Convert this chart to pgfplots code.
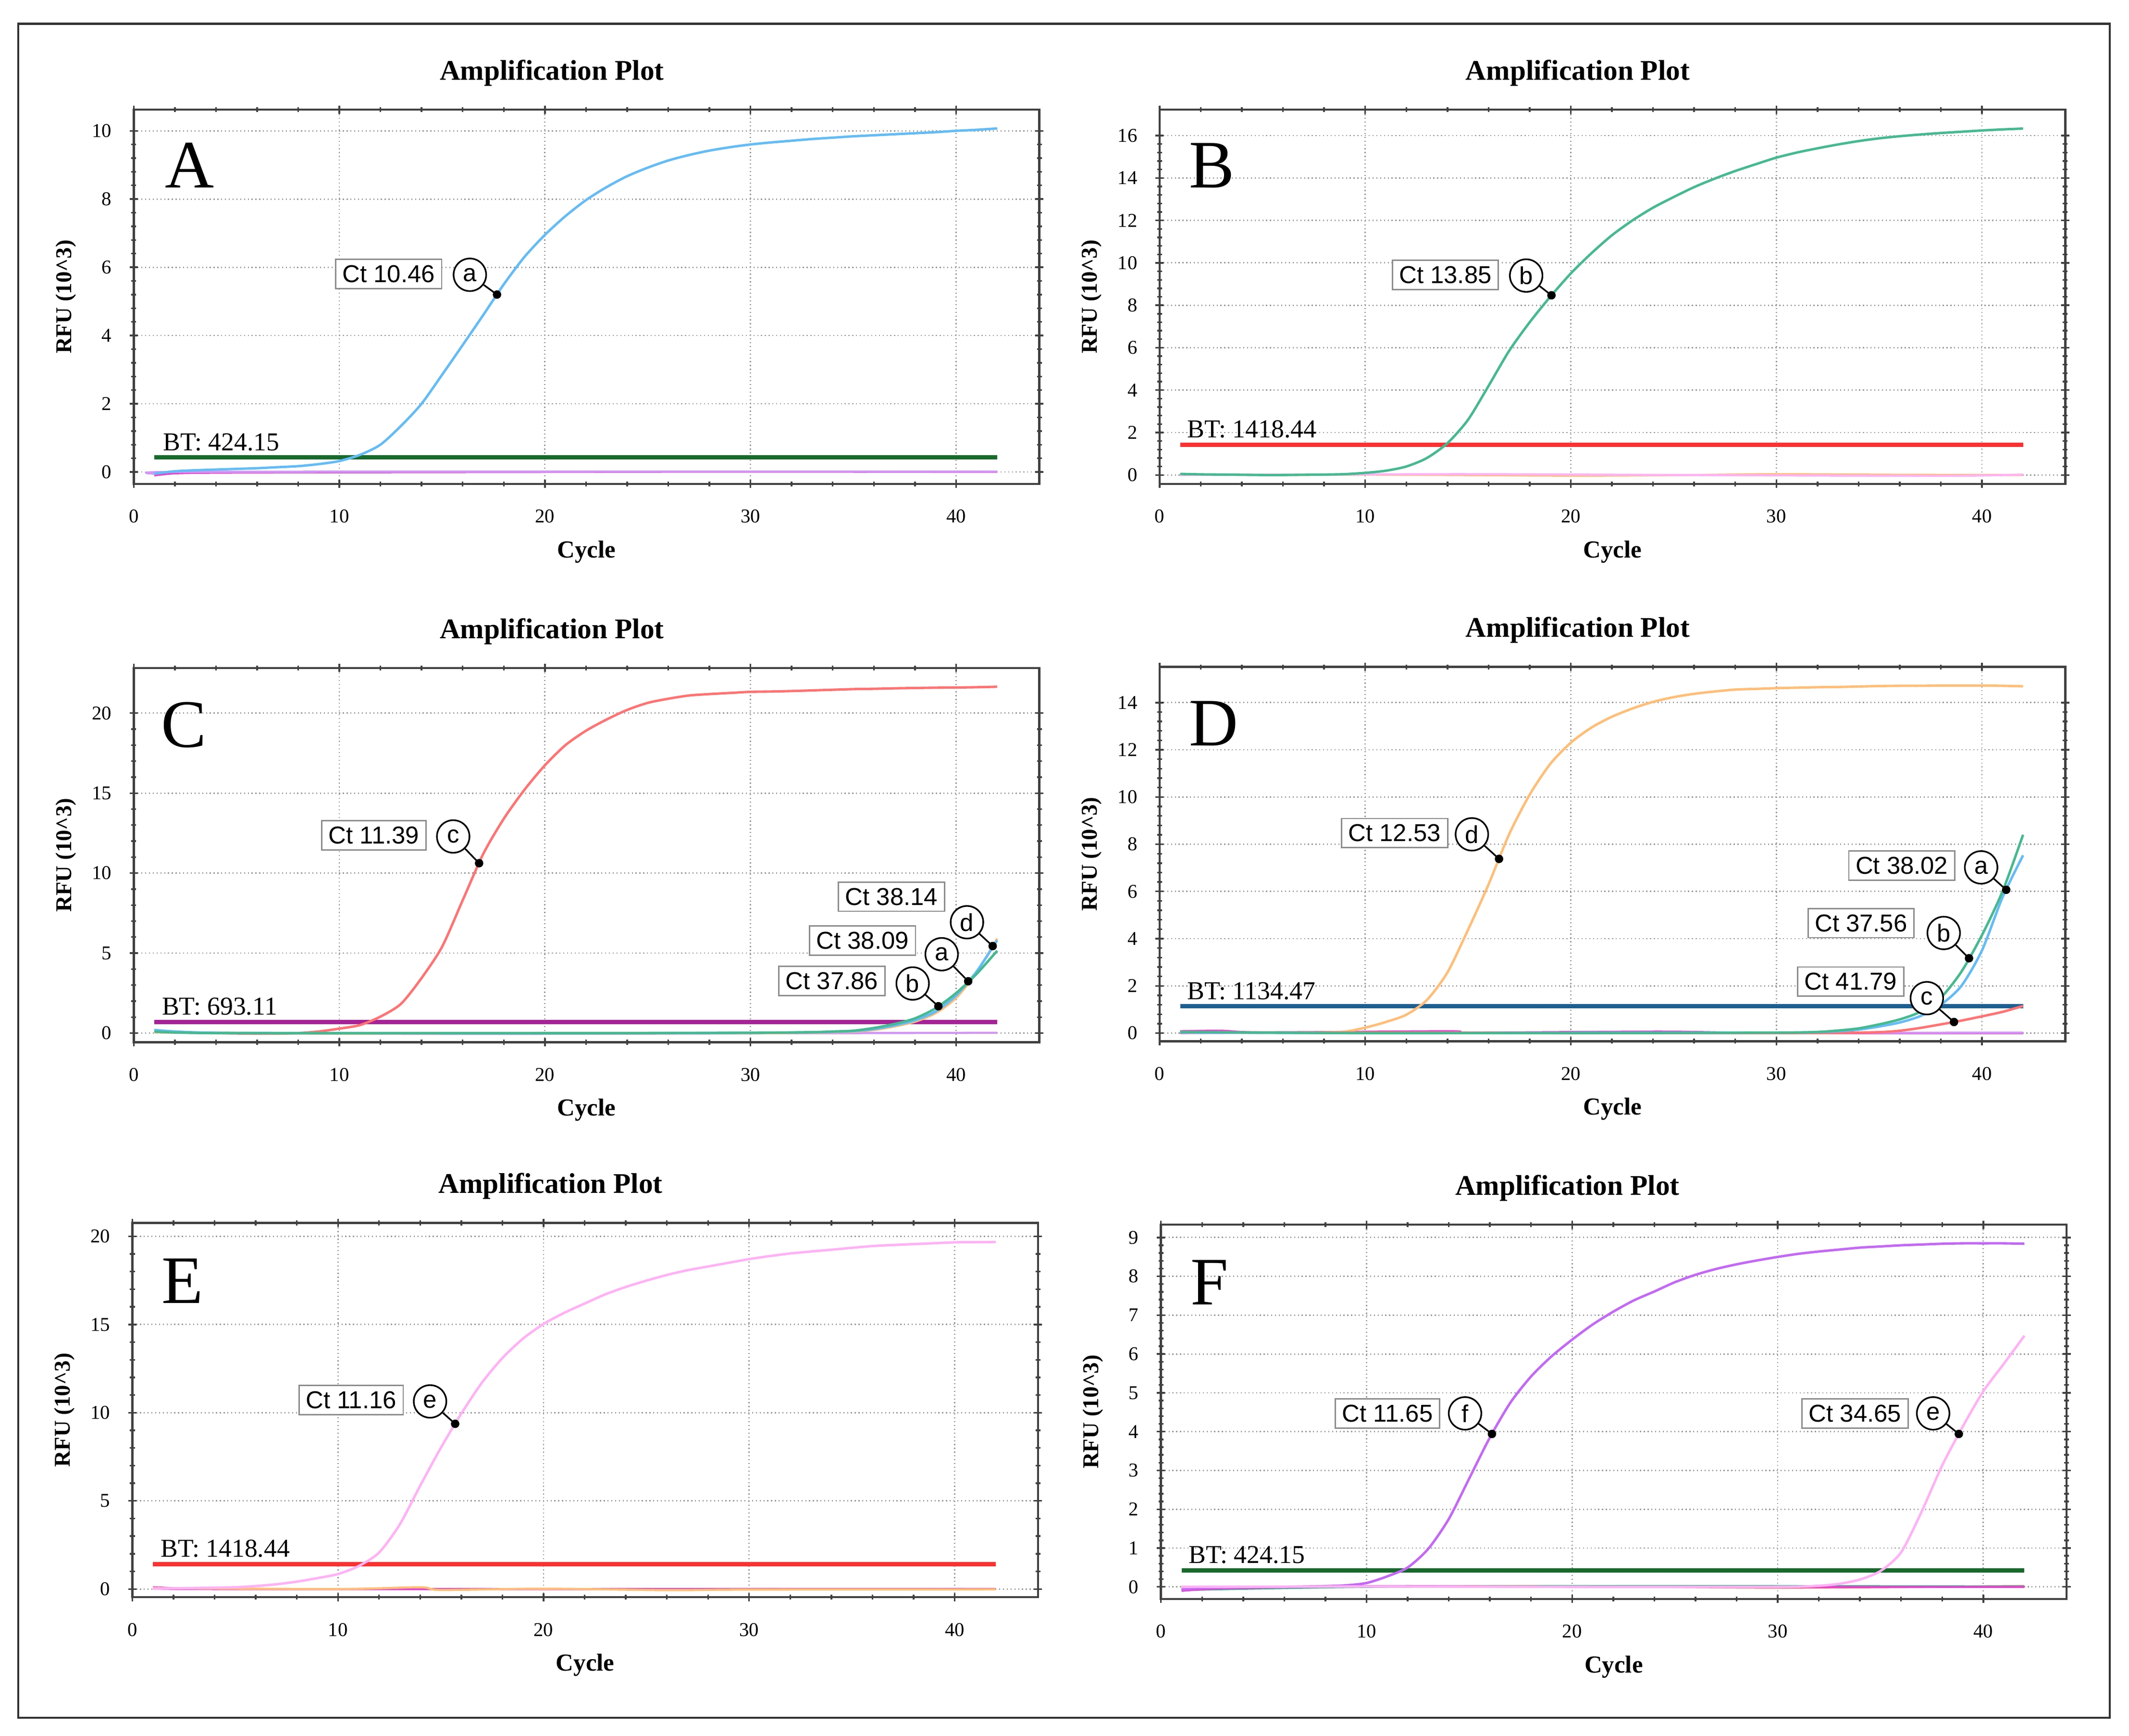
\documentclass[border=0pt]{standalone}
\usepackage{pgfplots}
\pgfplotsset{compat=1.18}
\usepackage{fontspec}
\setmainfont{Liberation Serif}
\newfontfamily\ctfont{Liberation Sans}
\definecolor{cblue}{RGB}{100,188,245}
\definecolor{cgreen}{RGB}{70,185,145}
\definecolor{cred}{RGB}{255,115,115}
\definecolor{corange}{RGB}{255,190,120}
\definecolor{cpink}{RGB}{255,178,245}
\definecolor{cpurple}{RGB}{195,105,245}
\definecolor{thgreen}{RGB}{25,105,45}
\definecolor{thred}{RGB}{250,50,50}
\definecolor{thmag}{RGB}{165,35,150}
\definecolor{thblue}{RGB}{30,95,145}
\definecolor{cmag}{RGB}{225,70,205}
\definecolor{clav}{RGB}{210,150,245}
\pgfplotsset{
  panel/.style={
    scale only axis, width=333.5pt, height=137.8pt, anchor=south west,
    xmin=0, xmax=44.05, xtick={0,10,...,40}, minor x tick num=4, minor y tick num=4,
    tick align=center, major tick length=3pt, minor tick length=1.8pt,
    grid=major, major grid style={densely dotted, black!40, line width=0.5pt},
    axis line style={black!75, line width=0.8pt},
    every tick/.style={black!75, line width=0.6pt},
    ticklabel style={font=\fontsize{7.2}{8}\selectfont},
    /pgf/number format/assume math mode=true,
    xticklabel style={yshift=-4.5pt}, yticklabel style={xshift=-3.2pt},
    title={Amplification Plot},
    title style={font=\bfseries\fontsize{10.5}{12}\selectfont, anchor=center, yshift=7.5pt},
    xlabel={Cycle}, ylabel={RFU (10\textasciicircum 3)},
    xlabel style={font=\bfseries\fontsize{9}{10}\selectfont, at={(axis description cs:0.5,0)}, anchor=center, yshift=-25pt},
    ylabel style={font=\bfseries\fontsize{8.3}{9}\selectfont, at={(axis description cs:-0.075,0.5)}, anchor=center},
    every axis plot/.append style={line width=0.9pt, smooth, tension=0.45},
  },
  thr/.style={line width=1.6pt, forget plot, sharp plot},
  dot/.style={only marks, mark=*, mark size=1.1pt, black, forget plot},
}
\tikzset{
  ctbox/.style={draw=black!45, fill=white, line width=0.5pt, inner xsep=2.5pt, inner ysep=2.2pt, font=\ctfont\fontsize{9}{10}\selectfont},
  circ/.style={circle, draw=black, fill=white, line width=0.6pt, minimum size=12pt, inner sep=0pt, font=\ctfont\fontsize{9}{10}\selectfont},
  lead/.style={black, line width=0.6pt},
  big/.style={anchor=base west, inner sep=0pt, font=\fontsize{25}{25}\selectfont},
  btl/.style={anchor=base west, inner sep=0pt, yshift=2.6pt, font=\fontsize{9.5}{10}\selectfont},
}
\begin{document}
\begin{tikzpicture}
\path[use as bounding box] (0,0) rectangle (784.05pt,639.1pt);
\draw[black!80, line width=0.8pt] (6.75pt,6.55pt) rectangle (777pt,630.3pt);

% ---------------- A ----------------
\begin{axis}[panel, at={(49.25pt,460.9pt)}, ymin=-0.35, ymax=10.62, ytick={0,2,...,10},
  title style={at={(axis description cs:0.4617,1)}}]
\addplot[cmag, line width=0.8pt] coordinates {(1,-0.1)(2,-0.04)(4,-0.02)(10,-0.01)(20,0)(30,0.01)(42,0.0)};
\addplot[clav, line width=0.8pt] coordinates {(1,-0.05)(2,0.0)(20,0.01)(42,0.01)};
\addplot[thr, thgreen] coordinates {(1,0.424)(42,0.424)};
\addplot[cblue] coordinates {(1,-0.05)(2,0.02)(3,0.05)(4,0.07)(5,0.09)(6,0.11)(7,0.14)(8,0.17)(9,0.23)(10,0.32)(11,0.5)(12,0.8)(13,1.35)(14,2.0)(15,2.85)(16,3.72)(17,4.6)(18,5.5)(19,6.3)(20,6.95)(21,7.5)(22,7.97)(23,8.35)(24,8.67)(25,8.92)(26,9.13)(27,9.29)(28,9.42)(29,9.52)(30,9.6)(31,9.66)(32,9.71)(33,9.76)(34,9.8)(35,9.84)(36,9.87)(37,9.9)(38,9.93)(39,9.96)(40,10.0)(41,10.03)(42,10.07)};
\addplot[dot] coordinates {(17.67,5.2)};
\node[big] at (rel axis cs:0.034,0.791) {A};
\node[btl] at (axis cs:1.4,0.424) {BT: 424.15};
\node[ctbox] at (axis cs:12.4,5.8) {Ct 10.46};
\node[circ] (a1) at (axis cs:16.35,5.78) {a};
\draw[lead] (a1) -- (axis cs:17.67,5.2);
\end{axis}

% ---------------- B ----------------
\begin{axis}[panel, at={(427.05pt,460.9pt)}, ymin=-0.42, ymax=17.22, ytick={0,2,...,16},
  title style={at={(axis description cs:0.4617,1)}}]
\addplot[corange, line width=0.8pt] coordinates {(1,0.03)(6,0.0)(10,0.02)(20,-0.03)(26,0.0)(30,0.04)(36,0.01)(42,0.0)};
\addplot[cpink, line width=0.8pt] coordinates {(1,0.0)(8,0.02)(15,0.04)(25,0.0)(38,-0.04)(42,0.02)};
\addplot[thr, thred] coordinates {(1,1.418)(42,1.418)};
\addplot[cgreen] coordinates {(1,0.05)(2,0.03)(3,0.02)(4,0.01)(5,0.0)(6,0.0)(7,0.01)(8,0.02)(9,0.04)(10,0.1)(11,0.2)(12,0.4)(13,0.8)(14,1.5)(15,2.6)(16,4.2)(17,5.85)(18,7.2)(19,8.4)(20,9.5)(21,10.45)(22,11.3)(23,12.0)(24,12.6)(25,13.1)(26,13.57)(27,13.97)(28,14.33)(29,14.65)(30,14.96)(31,15.2)(32,15.4)(33,15.58)(34,15.74)(35,15.87)(36,15.97)(37,16.05)(38,16.12)(39,16.18)(40,16.24)(41,16.29)(42,16.33)};
\addplot[dot] coordinates {(19.06,8.47)};
\node[big] at (rel axis cs:0.032,0.791) {B};
\node[btl] at (axis cs:1.32,1.418) {BT: 1418.44};
\node[ctbox] at (axis cs:13.9,9.43) {Ct 13.85};
\node[circ] (b1) at (axis cs:17.83,9.4) {b};
\draw[lead] (b1) -- (axis cs:19.06,8.47);
\end{axis}

% ---------------- C ----------------
\begin{axis}[panel, at={(49.25pt,255.3pt)}, ymin=-0.57, ymax=22.82, ytick={0,5,...,20},
  title style={at={(axis description cs:0.4617,1)}}]
\addplot[clav, line width=0.8pt] coordinates {(1,0.05)(5,0.0)(15,-0.05)(25,-0.03)(35,0.0)(42,0.02)};
\addplot[thr, thmag] coordinates {(1,0.693)(42,0.693)};
\addplot[cred] coordinates {(1,0.16)(2,0.06)(3,0.02)(4,0.0)(5,-0.02)(6,-0.03)(7,-0.03)(8,0.0)(9,0.1)(10,0.28)(11,0.5)(12,1.03)(13,1.83)(14,3.44)(15,5.4)(16,8.3)(17,11.2)(18,13.4)(19,15.2)(20,16.74)(21,18.0)(22,18.9)(23,19.6)(24,20.2)(25,20.64)(26,20.9)(27,21.1)(28,21.19)(29,21.26)(30,21.33)(31,21.35)(32,21.38)(33,21.42)(34,21.46)(35,21.5)(36,21.52)(37,21.55)(38,21.57)(39,21.59)(40,21.6)(41,21.62)(42,21.65)};
\addplot[corange] coordinates {(1,0.05)(10,-0.02)(20,0)(30,0.0)(33,0.03)(34,0.06)(35,0.09)(36,0.2)(37,0.42)(38,0.72)(39,1.25)(40,2.2)(41,3.8)(42,5.9)};
\addplot[cblue] coordinates {(1,0.2)(2,0.1)(4,0.02)(10,0)(20,-0.02)(30,0.02)(33,0.05)(34,0.08)(35,0.12)(36,0.25)(37,0.48)(38,0.8)(39,1.35)(40,2.35)(41,3.85)(42,5.8)};
\addplot[cgreen] coordinates {(1,0.1)(4,0.0)(20,0.0)(30,0.02)(33,0.06)(34,0.1)(35,0.15)(36,0.32)(37,0.57)(38,0.92)(39,1.55)(40,2.5)(41,3.7)(42,5.15)};
\addplot[dot] coordinates {(16.8,10.62)(41.78,5.44)(40.59,3.24)(39.14,1.68)};
\node[big] at (rel axis cs:0.030,0.789) {C};
\node[btl] at (axis cs:1.35,0.693) {BT: 693.11};
\node[ctbox] at (axis cs:11.68,12.36) {Ct 11.39};
\node[circ] (c1) at (axis cs:15.54,12.29) {c};
\draw[lead] (c1) -- (axis cs:16.8,10.62);
\node[ctbox] at (axis cs:36.86,8.53) {Ct 38.14};
\node[circ] (c2) at (axis cs:40.53,6.93) {d};
\draw[lead] (c2) -- (axis cs:41.78,5.44);
\node[ctbox] at (axis cs:35.45,5.78) {Ct 38.09};
\node[circ] (c3) at (axis cs:39.3,4.93) {a};
\draw[lead] (c3) -- (axis cs:40.59,3.24);
\node[ctbox] at (axis cs:33.96,3.26) {Ct 37.86};
\node[circ] (c4) at (axis cs:37.89,3.1) {b};
\draw[lead] (c4) -- (axis cs:39.14,1.68);
\end{axis}

% ---------------- D ----------------
\begin{axis}[panel, at={(427.05pt,255.7pt)}, ymin=-0.34, ymax=15.51, ytick={0,2,...,14},
  title style={at={(axis description cs:0.4617,1)}}]
\addplot[cmag, line width=0.8pt] coordinates {(1,0.08)(3,0.1)(5,0.03)(14,0.08)(15,0.02)(21,0.05)(25,0.06)(30,0.0)(42,0.0)};
\addplot[clav, line width=0.8pt] coordinates {(1,0.0)(10,0.02)(20,0.0)(42,0.02)};
\addplot[thr, thblue] coordinates {(1,1.134)(42,1.134)};
\addplot[corange] coordinates {(1,0.05)(2,0.04)(3,0.03)(4,0.02)(5,0.02)(6,0.02)(7,0.02)(8,0.03)(9,0.06)(10,0.23)(11,0.47)(12,0.78)(13,1.4)(14,2.57)(15,4.37)(16,6.3)(17,8.42)(18,10.1)(19,11.4)(20,12.3)(21,12.94)(22,13.4)(23,13.75)(24,14.03)(25,14.23)(26,14.37)(27,14.47)(28,14.55)(29,14.58)(30,14.61)(31,14.63)(32,14.65)(33,14.66)(34,14.68)(35,14.7)(36,14.71)(37,14.71)(38,14.72)(39,14.72)(40,14.72)(41,14.71)(42,14.69)};
\addplot[cred] coordinates {(1,0.02)(10,0.03)(20,0)(30,0.0)(33,0.01)(35,0.04)(36,0.1)(37,0.22)(38,0.37)(39,0.53)(40,0.71)(41,0.9)(42,1.15)};
\addplot[cblue] coordinates {(1,0.03)(10,0)(20,0.01)(30,0.02)(32,0.04)(33,0.08)(34,0.15)(35,0.28)(36,0.45)(37,0.72)(38,1.2)(39,2.0)(40,3.5)(41,5.75)(42,7.53)};
\addplot[cgreen] coordinates {(1,0.05)(5,0.02)(10,0)(20,0)(30,0.02)(32,0.05)(33,0.11)(34,0.2)(35,0.37)(36,0.58)(37,0.9)(38,1.5)(39,2.6)(40,4.15)(41,6.0)(42,8.4)};
\addplot[dot] coordinates {(16.51,7.38)(41.18,6.07)(39.37,3.17)(38.64,0.47)};
\node[big] at (rel axis cs:0.032,0.789) {D};
\node[btl] at (axis cs:1.32,1.134) {BT: 1134.47};
\node[ctbox] at (axis cs:11.43,8.47) {Ct 12.53};
\node[circ] (d1) at (axis cs:15.19,8.42) {d};
\draw[lead] (d1) -- (axis cs:16.51,7.38);
\node[ctbox] at (axis cs:36.1,7.09) {Ct 38.02};
\node[circ] (d2) at (axis cs:39.96,7.02) {a};
\draw[lead] (d2) -- (axis cs:41.18,6.07);
\node[ctbox] at (axis cs:34.12,4.66) {Ct 37.56};
\node[circ] (d3) at (axis cs:38.14,4.24) {b};
\draw[lead] (d3) -- (axis cs:39.37,3.17);
\node[ctbox] at (axis cs:33.62,2.18) {Ct 41.79};
\node[circ] (d4) at (axis cs:37.32,1.48) {c};
\draw[lead] (d4) -- (axis cs:38.64,0.47);
\end{axis}

% ---------------- E ----------------
\begin{axis}[panel, at={(48.75pt,50.95pt)}, ymin=-0.46, ymax=20.76, ytick={0,5,...,20},
  title style={at={(axis description cs:0.4617,1)}}]
\addplot[cmag, line width=0.8pt] coordinates {(1,0.1)(2,0.05)(4,0.0)(42,0.0)};
\addplot[corange, line width=0.8pt] coordinates {(1,0.05)(10,0.0)(14,0.1)(15,-0.05)(20,0.02)(26,-0.06)(30,-0.03)(42,-0.02)};
\addplot[thr, thred] coordinates {(1,1.418)(42,1.418)};
\addplot[cpink] coordinates {(1,0.02)(2,0.04)(3,0.06)(4,0.08)(5,0.1)(6,0.17)(7,0.27)(8,0.42)(9,0.62)(10,0.85)(11,1.3)(12,2.07)(13,3.65)(14,5.86)(15,8.0)(16,9.95)(17,11.7)(18,13.1)(19,14.2)(20,15.03)(21,15.66)(22,16.19)(23,16.71)(24,17.13)(25,17.49)(26,17.81)(27,18.08)(28,18.29)(29,18.5)(30,18.71)(31,18.88)(32,19.03)(33,19.14)(34,19.24)(35,19.35)(36,19.45)(37,19.51)(38,19.56)(39,19.61)(40,19.66)(41,19.67)(42,19.68)};
\addplot[dot] coordinates {(15.7,9.37)};
\node[big] at (rel axis cs:0.032,0.786) {E};
\node[btl] at (axis cs:1.35,1.418) {BT: 1418.44};
\node[ctbox] at (axis cs:10.64,10.71) {Ct 11.16};
\node[circ] (e1) at (axis cs:14.48,10.64) {e};
\draw[lead] (e1) -- (axis cs:15.7,9.37);
\end{axis}

% ---------------- F ----------------
\begin{axis}[panel, at={(427.55pt,50.3pt)}, ymin=-0.31, ymax=9.33, ytick={0,1,...,9},
  title style={at={(axis description cs:0.4487,1)}}]
\addplot[cred, line width=0.8pt] coordinates {(1,-0.05)(5,0.0)(20,0.02)(30,-0.02)(42,0.02)};
\addplot[cgreen, line width=0.8pt] coordinates {(1,-0.08)(10,0.0)(25,0.02)(42,0.01)};
\addplot[cmag, line width=0.8pt] coordinates {(1,-0.1)(3,-0.04)(10,0.02)(20,0.0)(42,0.0)};
\addplot[thr, thgreen] coordinates {(1,0.424)(42,0.424)};
\addplot[cpurple] coordinates {(1,-0.07)(2,-0.03)(3,-0.02)(4,-0.01)(5,0)(6,0)(7,0.01)(8,0.02)(9,0.04)(10,0.1)(11,0.27)(12,0.5)(13,0.98)(14,1.75)(15,2.8)(16,3.85)(17,4.75)(18,5.42)(19,5.94)(20,6.37)(21,6.76)(22,7.09)(23,7.38)(24,7.61)(25,7.85)(26,8.04)(27,8.19)(28,8.31)(29,8.41)(30,8.5)(31,8.58)(32,8.64)(33,8.69)(34,8.74)(35,8.77)(36,8.8)(37,8.82)(38,8.84)(39,8.85)(40,8.85)(41,8.85)(42,8.84)};
\addplot[cpink] coordinates {(1,0.0)(10,0.01)(20,0)(30,0.0)(32,0.03)(33,0.08)(34,0.19)(35,0.41)(36,0.89)(37,1.94)(38,3.13)(39,4.13)(40,5.04)(41,5.75)(42,6.47)};
\addplot[dot] coordinates {(16.1,3.94)(38.81,3.94)};
\node[big] at (rel axis cs:0.032,0.786) {F};
\node[btl] at (axis cs:1.32,0.424) {BT: 424.15};
\node[ctbox] at (axis cs:11.02,4.47) {Ct 11.65};
\node[circ] (f1) at (axis cs:14.79,4.47) {f};
\draw[lead] (f1) -- (axis cs:16.1,3.94);
\node[ctbox] at (axis cs:33.76,4.47) {Ct 34.65};
\node[circ] (f2) at (axis cs:37.56,4.47) {e};
\draw[lead] (f2) -- (axis cs:38.81,3.94);
\end{axis}
\end{tikzpicture}
\end{document}
